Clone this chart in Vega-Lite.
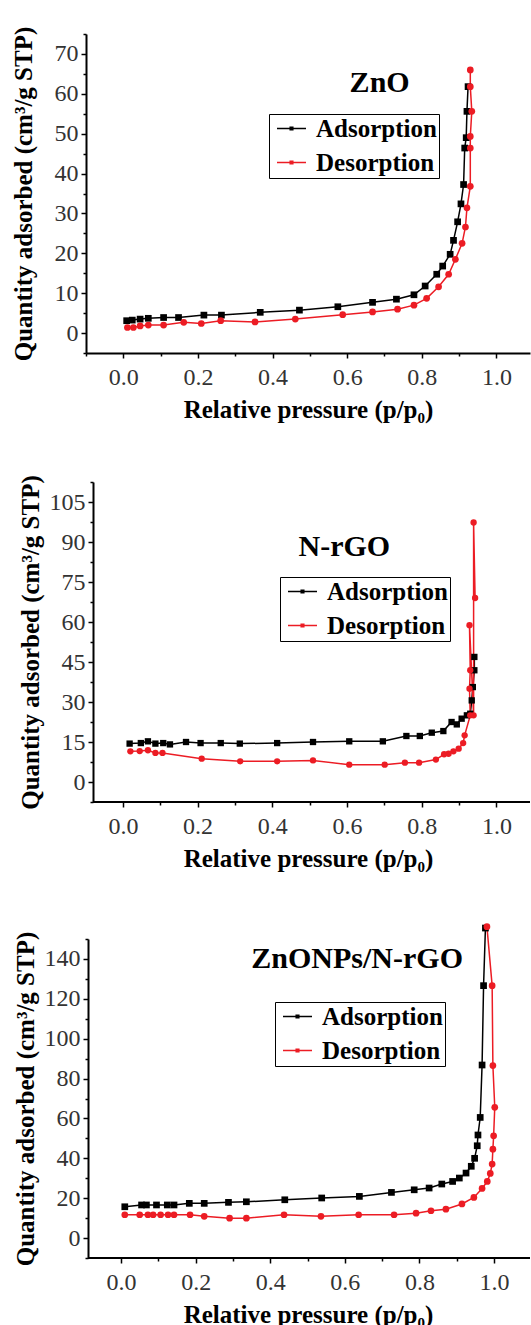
{
  "$schema": "https://vega.github.io/schema/vega-lite/v6.json",
  "padding": {"left": 11, "top": 26, "right": 0, "bottom": 0},
  "spacing": 52,
  "resolve": {"scale": {"color": "independent"}, "legend": {"color": "independent"}},
  "config": {
    "view": {"stroke": null}
  },
  "datasets": {
    "zno": [
      {"series": "Adsorption", "p": 0.009, "q": 3.1}, {"series": "Adsorption", "p": 0.024, "q": 3.25},
      {"series": "Adsorption", "p": 0.045, "q": 3.5}, {"series": "Adsorption", "p": 0.067, "q": 3.7},
      {"series": "Adsorption", "p": 0.108, "q": 3.9}, {"series": "Adsorption", "p": 0.148, "q": 3.9},
      {"series": "Adsorption", "p": 0.216, "q": 4.5}, {"series": "Adsorption", "p": 0.263, "q": 4.5},
      {"series": "Adsorption", "p": 0.367, "q": 5.2}, {"series": "Adsorption", "p": 0.472, "q": 5.75},
      {"series": "Adsorption", "p": 0.575, "q": 6.6}, {"series": "Adsorption", "p": 0.668, "q": 7.7},
      {"series": "Adsorption", "p": 0.732, "q": 8.5}, {"series": "Adsorption", "p": 0.779, "q": 9.6},
      {"series": "Adsorption", "p": 0.809, "q": 11.8}, {"series": "Adsorption", "p": 0.84, "q": 14.75},
      {"series": "Adsorption", "p": 0.856, "q": 16.8}, {"series": "Adsorption", "p": 0.876, "q": 19.75},
      {"series": "Adsorption", "p": 0.885, "q": 23.25}, {"series": "Adsorption", "p": 0.896, "q": 27.9},
      {"series": "Adsorption", "p": 0.905, "q": 32.4}, {"series": "Adsorption", "p": 0.912, "q": 37.25},
      {"series": "Adsorption", "p": 0.915, "q": 46.4}, {"series": "Adsorption", "p": 0.919, "q": 49},
      {"series": "Adsorption", "p": 0.921, "q": 55.6}, {"series": "Adsorption", "p": 0.924, "q": 61.8},
      {"series": "Desorption", "p": 0.93, "q": 66}, {"series": "Desorption", "p": 0.93, "q": 61.8},
      {"series": "Desorption", "p": 0.934, "q": 55.6}, {"series": "Desorption", "p": 0.93, "q": 49.3},
      {"series": "Desorption", "p": 0.93, "q": 46.4}, {"series": "Desorption", "p": 0.93, "q": 36.8},
      {"series": "Desorption", "p": 0.921, "q": 31.4}, {"series": "Desorption", "p": 0.917, "q": 26.6},
      {"series": "Desorption", "p": 0.908, "q": 22.5}, {"series": "Desorption", "p": 0.89, "q": 18.5},
      {"series": "Desorption", "p": 0.872, "q": 14.75}, {"series": "Desorption", "p": 0.845, "q": 11.6},
      {"series": "Desorption", "p": 0.813, "q": 8.7}, {"series": "Desorption", "p": 0.779, "q": 7},
      {"series": "Desorption", "p": 0.735, "q": 6}, {"series": "Desorption", "p": 0.668, "q": 5.3},
      {"series": "Desorption", "p": 0.588, "q": 4.6}, {"series": "Desorption", "p": 0.461, "q": 3.5},
      {"series": "Desorption", "p": 0.353, "q": 2.8}, {"series": "Desorption", "p": 0.261, "q": 3.1},
      {"series": "Desorption", "p": 0.209, "q": 2.4}, {"series": "Desorption", "p": 0.162, "q": 2.7},
      {"series": "Desorption", "p": 0.108, "q": 2.0}, {"series": "Desorption", "p": 0.067, "q": 2.0},
      {"series": "Desorption", "p": 0.045, "q": 1.8}, {"series": "Desorption", "p": 0.027, "q": 1.4},
      {"series": "Desorption", "p": 0.011, "q": 1.4}
    ],
    "nrgo": [
      {"series": "Adsorption", "p": 0.018, "q": 14.4}, {"series": "Adsorption", "p": 0.048, "q": 14.6},
      {"series": "Adsorption", "p": 0.067, "q": 15.25}, {"series": "Adsorption", "p": 0.087, "q": 14.4},
      {"series": "Adsorption", "p": 0.108, "q": 14.6}, {"series": "Adsorption", "p": 0.126, "q": 14.1},
      {"series": "Adsorption", "p": 0.169, "q": 15}, {"series": "Adsorption", "p": 0.208, "q": 14.6},
      {"series": "Adsorption", "p": 0.262, "q": 14.6}, {"series": "Adsorption", "p": 0.313, "q": 14.4},
      {"series": "Adsorption", "p": 0.413, "q": 14.6}, {"series": "Adsorption", "p": 0.509, "q": 15},
      {"series": "Adsorption", "p": 0.606, "q": 15.25}, {"series": "Adsorption", "p": 0.696, "q": 15.25},
      {"series": "Adsorption", "p": 0.759, "q": 17.25}, {"series": "Adsorption", "p": 0.795, "q": 17.25},
      {"series": "Adsorption", "p": 0.827, "q": 18.5}, {"series": "Adsorption", "p": 0.858, "q": 19.1},
      {"series": "Adsorption", "p": 0.88, "q": 22.5}, {"series": "Adsorption", "p": 0.894, "q": 21.6},
      {"series": "Adsorption", "p": 0.907, "q": 23.75}, {"series": "Adsorption", "p": 0.921, "q": 25},
      {"series": "Adsorption", "p": 0.93, "q": 25.6}, {"series": "Adsorption", "p": 0.934, "q": 30.6},
      {"series": "Adsorption", "p": 0.937, "q": 35.6}, {"series": "Adsorption", "p": 0.941, "q": 41.9},
      {"series": "Adsorption", "p": 0.941, "q": 46.9},
      {"series": "Desorption", "p": 0.943, "q": 69}, {"series": "Desorption", "p": 0.939, "q": 97.3},
      {"series": "Desorption", "p": 0.939, "q": 25}, {"series": "Desorption", "p": 0.928, "q": 58.8},
      {"series": "Desorption", "p": 0.93, "q": 41.9}, {"series": "Desorption", "p": 0.928, "q": 35},
      {"series": "Desorption", "p": 0.93, "q": 25}, {"series": "Desorption", "p": 0.915, "q": 17.5},
      {"series": "Desorption", "p": 0.911, "q": 14.6}, {"series": "Desorption", "p": 0.899, "q": 12.5},
      {"series": "Desorption", "p": 0.885, "q": 11.5}, {"series": "Desorption", "p": 0.872, "q": 10.6},
      {"series": "Desorption", "p": 0.86, "q": 10.4}, {"series": "Desorption", "p": 0.838, "q": 8.4},
      {"series": "Desorption", "p": 0.793, "q": 7.25}, {"series": "Desorption", "p": 0.755, "q": 7.25},
      {"series": "Desorption", "p": 0.701, "q": 6.5}, {"series": "Desorption", "p": 0.606, "q": 6.5},
      {"series": "Desorption", "p": 0.509, "q": 8.1}, {"series": "Desorption", "p": 0.413, "q": 7.75},
      {"series": "Desorption", "p": 0.314, "q": 7.75}, {"series": "Desorption", "p": 0.211, "q": 8.75},
      {"series": "Desorption", "p": 0.106, "q": 10.9}, {"series": "Desorption", "p": 0.087, "q": 10.9},
      {"series": "Desorption", "p": 0.067, "q": 11.9}, {"series": "Desorption", "p": 0.045, "q": 11.6},
      {"series": "Desorption", "p": 0.02, "q": 11.5}
    ],
    "zn_nrgo": [
      {"series": "Adsorption", "p": 0.01, "q": 15.7}, {"series": "Adsorption", "p": 0.055, "q": 16.6},
      {"series": "Adsorption", "p": 0.068, "q": 16.6}, {"series": "Adsorption", "p": 0.095, "q": 16.6},
      {"series": "Adsorption", "p": 0.124, "q": 16.6}, {"series": "Adsorption", "p": 0.142, "q": 16.6},
      {"series": "Adsorption", "p": 0.183, "q": 17.4}, {"series": "Adsorption", "p": 0.223, "q": 17.4},
      {"series": "Adsorption", "p": 0.288, "q": 17.9}, {"series": "Adsorption", "p": 0.336, "q": 18.2},
      {"series": "Adsorption", "p": 0.439, "q": 19.2}, {"series": "Adsorption", "p": 0.538, "q": 20.1},
      {"series": "Adsorption", "p": 0.639, "q": 20.9}, {"series": "Adsorption", "p": 0.725, "q": 22.9},
      {"series": "Adsorption", "p": 0.786, "q": 24.2}, {"series": "Adsorption", "p": 0.826, "q": 25.1},
      {"series": "Adsorption", "p": 0.86, "q": 27.1}, {"series": "Adsorption", "p": 0.889, "q": 28.4},
      {"series": "Adsorption", "p": 0.907, "q": 30.1}, {"series": "Adsorption", "p": 0.925, "q": 32.6},
      {"series": "Adsorption", "p": 0.939, "q": 36}, {"series": "Adsorption", "p": 0.948, "q": 40},
      {"series": "Adsorption", "p": 0.955, "q": 46.3}, {"series": "Adsorption", "p": 0.957, "q": 51.7},
      {"series": "Adsorption", "p": 0.963, "q": 60.5}, {"series": "Adsorption", "p": 0.968, "q": 86.8},
      {"series": "Adsorption", "p": 0.972, "q": 126.6}, {"series": "Adsorption", "p": 0.977, "q": 155.5},
      {"series": "Desorption", "p": 0.981, "q": 156.2}, {"series": "Desorption", "p": 0.995, "q": 126.6},
      {"series": "Desorption", "p": 0.997, "q": 86.5}, {"series": "Desorption", "p": 1.002, "q": 65.6},
      {"series": "Desorption", "p": 0.999, "q": 51.3}, {"series": "Desorption", "p": 0.997, "q": 44.6},
      {"series": "Desorption", "p": 0.995, "q": 37.1}, {"series": "Desorption", "p": 0.99, "q": 32.4},
      {"series": "Desorption", "p": 0.982, "q": 28.4}, {"series": "Desorption", "p": 0.968, "q": 24.9},
      {"series": "Desorption", "p": 0.946, "q": 20.4}, {"series": "Desorption", "p": 0.914, "q": 17.1},
      {"series": "Desorption", "p": 0.871, "q": 14.5}, {"series": "Desorption", "p": 0.831, "q": 13.7},
      {"series": "Desorption", "p": 0.791, "q": 12.5}, {"series": "Desorption", "p": 0.732, "q": 11.7},
      {"series": "Desorption", "p": 0.637, "q": 11.7}, {"series": "Desorption", "p": 0.536, "q": 10.9},
      {"series": "Desorption", "p": 0.437, "q": 11.7}, {"series": "Desorption", "p": 0.336, "q": 10},
      {"series": "Desorption", "p": 0.291, "q": 10}, {"series": "Desorption", "p": 0.223, "q": 10.9},
      {"series": "Desorption", "p": 0.185, "q": 11.7}, {"series": "Desorption", "p": 0.142, "q": 11.7},
      {"series": "Desorption", "p": 0.126, "q": 11.7}, {"series": "Desorption", "p": 0.106, "q": 11.7},
      {"series": "Desorption", "p": 0.086, "q": 11.7}, {"series": "Desorption", "p": 0.072, "q": 11.7},
      {"series": "Desorption", "p": 0.05, "q": 11.7}, {"series": "Desorption", "p": 0.01, "q": 11.7}
    ]
  },
  "vconcat": [
    {
      "width": 444, "height": 319,
      "data": {"name": "zno"},
      "layer": [
        {
          "mark": {"type": "line", "strokeWidth": 1.5},
          "encoding": {
            "x": {"field": "p", "type": "quantitative", "scale": {"domain": [-0.1, 1.09], "nice": false, "zero": false},
              "axis": {"orient": "bottom", "values": [0, 0.2, 0.4, 0.6, 0.8, 1.0], "format": ".1f", "grid": false, "tickSize": 5, "tickWidth": 1.5, "tickColor": "#000000", "domainColor": "#000000", "domainWidth": 2, "labelFont": "Liberation Serif", "labelFontSize": 24, "labelColor": "#333333", "labelPadding": 7, "labelFlush": false, "labelOverlap": false, "title": "Relative pressure (p/p₀)", "titleFont": "Liberation Serif", "titleFontSize": 25, "titleFontWeight": "bold", "titleColor": "#000000", "titlePadding": 8}},
            "y": {"field": "q", "type": "quantitative", "scale": {"domain": [-5, 75], "nice": false, "zero": false},
              "axis": {"orient": "left", "values": [0, 10, 20, 30, 40, 50, 60, 70], "grid": false, "tickSize": 5, "tickWidth": 1.5, "tickColor": "#000000", "domainColor": "#000000", "domainWidth": 2, "labelFont": "Liberation Serif", "labelFontSize": 24, "labelColor": "#333333", "labelPadding": 3, "labelFlush": false, "labelOverlap": false, "minExtent": 44, "maxExtent": 44, "title": "Quantity adsorbed (cm³/g STP)", "titleFont": "Liberation Serif", "titleFontSize": 25, "titleFontWeight": "bold", "titleColor": "#000000", "titlePadding": 6}},
            "color": {"field": "series", "type": "nominal", "scale": {"domain": ["Adsorption", "Desorption"], "range": ["#000000", "#ec1c24"]},
              "legend": {"orient": "none", "legendX": 183, "legendY": 80, "title": null, "labelFont": "Liberation Serif", "labelFontSize": 25, "labelFontWeight": "bold", "labelColor": "#000000", "symbolType": "M-1.45,0H1.45M-0.13,-0.13H0.13V0.13H-0.13Z", "symbolSize": 400, "symbolStrokeWidth": 1.5, "strokeColor": "#000000", "padding": 2, "rowPadding": 8, "labelOffset": 12, "symbolOffset": 8}},
            "order": {"value": null}
          }
        },
        {
          "transform": [{"filter": "datum.series === 'Adsorption'"}],
          "mark": {"type": "point", "shape": "square", "filled": true, "color": "#000000", "size": 45, "opacity": 1},
          "encoding": {"x": {"field": "p", "type": "quantitative", "axis": null}, "y": {"field": "q", "type": "quantitative", "axis": null}}
        },
        {
          "transform": [{"filter": "datum.series === 'Desorption'"}],
          "mark": {"type": "point", "shape": "circle", "filled": true, "color": "#ec1c24", "size": 45, "opacity": 1},
          "encoding": {"x": {"field": "p", "type": "quantitative", "axis": null}, "y": {"field": "q", "type": "quantitative", "axis": null}}
        },
        {
          "data": {"values": [{"label": "ZnO"}]},
          "mark": {"type": "text", "font": "Liberation Serif", "fontWeight": "bold", "fontSize": 30, "color": "#000000", "baseline": "middle", "align": "center"},
          "encoding": {"text": {"field": "label"}, "x": {"datum": 0.687, "type": "quantitative", "axis": null}, "y": {"datum": 62.8, "type": "quantitative", "axis": null}}
        },
        {
          "mark": {"type": "point", "opacity": 0},
          "encoding": {
            "x": {"field": "p", "type": "quantitative", "axis": {"orient": "bottom", "values": [-0.1, 0.1, 0.3, 0.5, 0.7, 0.9], "grid": false, "tickSize": 3, "tickWidth": 1.5, "tickColor": "#000000", "labels": false, "domain": false, "title": null}},
            "y": {"field": "q", "type": "quantitative", "axis": {"orient": "left", "values": [-5, 5, 15, 25, 35, 45, 55, 65, 75], "grid": false, "tickSize": 3, "tickWidth": 1.5, "tickColor": "#000000", "labels": false, "domain": false, "title": null}}
          }
        }
      ],
      "resolve": {"axis": {"x": "independent", "y": "independent"}}
    },
    {
      "width": 444, "height": 320,
      "data": {"name": "nrgo"},
      "layer": [
        {
          "mark": {"type": "line", "strokeWidth": 1.5},
          "encoding": {
            "x": {"field": "p", "type": "quantitative", "scale": {"domain": [-0.0988, 1.09], "nice": false, "zero": false},
              "axis": {"orient": "bottom", "values": [0, 0.2, 0.4, 0.6, 0.8, 1.0], "format": ".1f", "grid": false, "tickSize": 5, "tickWidth": 1.5, "tickColor": "#000000", "domain": false, "labelFont": "Liberation Serif", "labelFontSize": 24, "labelColor": "#333333", "labelPadding": 7, "labelFlush": false, "labelOverlap": false, "title": "Relative pressure (p/p₀)", "titleFont": "Liberation Serif", "titleFontSize": 25, "titleFontWeight": "bold", "titleColor": "#000000", "titlePadding": 8}},
            "y": {"field": "q", "type": "quantitative", "scale": {"domain": [-7.5, 112.5], "nice": false, "zero": false},
              "axis": {"orient": "left", "offset": -7, "values": [0, 15, 30, 45, 60, 75, 90, 105], "grid": false, "tickSize": 5, "tickWidth": 1.5, "tickColor": "#000000", "domainColor": "#000000", "domainWidth": 2, "labelFont": "Liberation Serif", "labelFontSize": 24, "labelColor": "#333333", "labelPadding": 3, "labelFlush": false, "labelOverlap": false, "minExtent": 44, "maxExtent": 44, "title": "Quantity adsorbed (cm³/g STP)", "titleFont": "Liberation Serif", "titleFontSize": 25, "titleFontWeight": "bold", "titleColor": "#000000", "titlePadding": 6}},
            "color": {"field": "series", "type": "nominal", "scale": {"domain": ["Adsorption", "Desorption"], "range": ["#000000", "#ec1c24"]},
              "legend": {"orient": "none", "legendX": 194, "legendY": 95, "title": null, "labelFont": "Liberation Serif", "labelFontSize": 25, "labelFontWeight": "bold", "labelColor": "#000000", "symbolType": "M-1.45,0H1.45M-0.13,-0.13H0.13V0.13H-0.13Z", "symbolSize": 400, "symbolStrokeWidth": 1.5, "strokeColor": "#000000", "padding": 2, "rowPadding": 8, "labelOffset": 12, "symbolOffset": 8}},
            "order": {"value": null}
          }
        },
        {
          "data": {"values": [{}]},
          "mark": {"type": "rule", "color": "#000000", "strokeWidth": 2},
          "encoding": {"x": {"datum": -0.08, "type": "quantitative", "axis": null}, "x2": {"datum": 1.09}, "y": {"datum": -7.5, "type": "quantitative", "axis": null}}
        },
        {
          "transform": [{"filter": "datum.series === 'Adsorption'"}],
          "mark": {"type": "point", "shape": "square", "filled": true, "color": "#000000", "size": 40, "opacity": 1},
          "encoding": {"x": {"field": "p", "type": "quantitative", "axis": null}, "y": {"field": "q", "type": "quantitative", "axis": null}}
        },
        {
          "transform": [{"filter": "datum.series === 'Desorption'"}],
          "mark": {"type": "point", "shape": "circle", "filled": true, "color": "#ec1c24", "size": 40, "opacity": 1},
          "encoding": {"x": {"field": "p", "type": "quantitative", "axis": null}, "y": {"field": "q", "type": "quantitative", "axis": null}}
        },
        {
          "data": {"values": [{"label": "N-rGO"}]},
          "mark": {"type": "text", "font": "Liberation Serif", "fontWeight": "bold", "fontSize": 30, "color": "#000000", "baseline": "middle", "align": "center"},
          "encoding": {"text": {"field": "label"}, "x": {"datum": 0.593, "type": "quantitative", "axis": null}, "y": {"datum": 88.1, "type": "quantitative", "axis": null}}
        },
        {
          "mark": {"type": "point", "opacity": 0},
          "encoding": {
            "x": {"field": "p", "type": "quantitative", "axis": {"orient": "bottom", "values": [0.1, 0.3, 0.5, 0.7, 0.9], "grid": false, "tickSize": 3, "tickWidth": 1.5, "tickColor": "#000000", "labels": false, "domain": false, "title": null}},
            "y": {"field": "q", "type": "quantitative", "axis": {"orient": "left", "offset": -7, "values": [-7.5, 7.5, 22.5, 37.5, 52.5, 67.5, 82.5, 97.5, 112.5], "grid": false, "tickSize": 3, "tickWidth": 1.5, "tickColor": "#000000", "labels": false, "domain": false, "title": null}}
          }
        }
      ],
      "resolve": {"axis": {"x": "independent", "y": "independent"}}
    },
    {
      "width": 444, "height": 319,
      "data": {"name": "zn_nrgo"},
      "layer": [
        {
          "mark": {"type": "line", "strokeWidth": 1.5},
          "encoding": {
            "x": {"field": "p", "type": "quantitative", "scale": {"domain": [-0.094, 1.0965], "nice": false, "zero": false},
              "axis": {"orient": "bottom", "values": [0, 0.2, 0.4, 0.6, 0.8, 1.0], "format": ".1f", "grid": false, "tickSize": 5, "tickWidth": 1.5, "tickColor": "#000000", "domain": false, "labelFont": "Liberation Serif", "labelFontSize": 24, "labelColor": "#333333", "labelPadding": 7, "labelFlush": false, "labelOverlap": false, "title": "Relative pressure (p/p₀)", "titleFont": "Liberation Serif", "titleFontSize": 25, "titleFontWeight": "bold", "titleColor": "#000000", "titlePadding": 8}},
            "y": {"field": "q", "type": "quantitative", "scale": {"domain": [-10, 150], "nice": false, "zero": false},
              "axis": {"orient": "left", "offset": -2, "values": [0, 20, 40, 60, 80, 100, 120, 140], "grid": false, "tickSize": 5, "tickWidth": 1.5, "tickColor": "#000000", "domainColor": "#000000", "domainWidth": 2, "labelFont": "Liberation Serif", "labelFontSize": 24, "labelColor": "#333333", "labelPadding": 3, "labelFlush": false, "labelOverlap": false, "minExtent": 44, "maxExtent": 44, "title": "Quantity adsorbed (cm³/g STP)", "titleFont": "Liberation Serif", "titleFontSize": 25, "titleFontWeight": "bold", "titleColor": "#000000", "titlePadding": 6}},
            "color": {"field": "series", "type": "nominal", "scale": {"domain": ["Adsorption", "Desorption"], "range": ["#000000", "#ec1c24"]},
              "legend": {"orient": "none", "legendX": 189, "legendY": 63, "title": null, "labelFont": "Liberation Serif", "labelFontSize": 25, "labelFontWeight": "bold", "labelColor": "#000000", "symbolType": "M-1.45,0H1.45M-0.13,-0.13H0.13V0.13H-0.13Z", "symbolSize": 400, "symbolStrokeWidth": 1.5, "strokeColor": "#000000", "padding": 2, "rowPadding": 8, "labelOffset": 12, "symbolOffset": 8}},
            "order": {"value": null}
          }
        },
        {
          "data": {"values": [{}]},
          "mark": {"type": "rule", "color": "#000000", "strokeWidth": 2},
          "encoding": {"x": {"datum": -0.0886, "type": "quantitative", "axis": null}, "x2": {"datum": 1.0965}, "y": {"datum": -10, "type": "quantitative", "axis": null}}
        },
        {
          "transform": [{"filter": "datum.series === 'Adsorption'"}],
          "mark": {"type": "point", "shape": "square", "filled": true, "color": "#000000", "size": 45, "opacity": 1},
          "encoding": {"x": {"field": "p", "type": "quantitative", "axis": null}, "y": {"field": "q", "type": "quantitative", "axis": null}}
        },
        {
          "transform": [{"filter": "datum.series === 'Desorption'"}],
          "mark": {"type": "point", "shape": "circle", "filled": true, "color": "#ec1c24", "size": 45, "opacity": 1},
          "encoding": {"x": {"field": "p", "type": "quantitative", "axis": null}, "y": {"field": "q", "type": "quantitative", "axis": null}}
        },
        {
          "data": {"values": [{"label": "ZnONPs/N-rGO"}]},
          "mark": {"type": "text", "font": "Liberation Serif", "fontWeight": "bold", "fontSize": 30, "color": "#000000", "baseline": "middle", "align": "center"},
          "encoding": {"text": {"field": "label"}, "x": {"datum": 0.633, "type": "quantitative", "axis": null}, "y": {"datum": 140, "type": "quantitative", "axis": null}}
        },
        {
          "mark": {"type": "point", "opacity": 0},
          "encoding": {
            "x": {"field": "p", "type": "quantitative", "axis": {"orient": "bottom", "values": [0.1, 0.3, 0.5, 0.7, 0.9], "grid": false, "tickSize": 3, "tickWidth": 1.5, "tickColor": "#000000", "labels": false, "domain": false, "title": null}},
            "y": {"field": "q", "type": "quantitative", "axis": {"orient": "left", "offset": -2, "values": [-10, 10, 30, 50, 70, 90, 110, 130, 150], "grid": false, "tickSize": 3, "tickWidth": 1.5, "tickColor": "#000000", "labels": false, "domain": false, "title": null}}
          }
        }
      ],
      "resolve": {"axis": {"x": "independent", "y": "independent"}}
    }
  ]
}
